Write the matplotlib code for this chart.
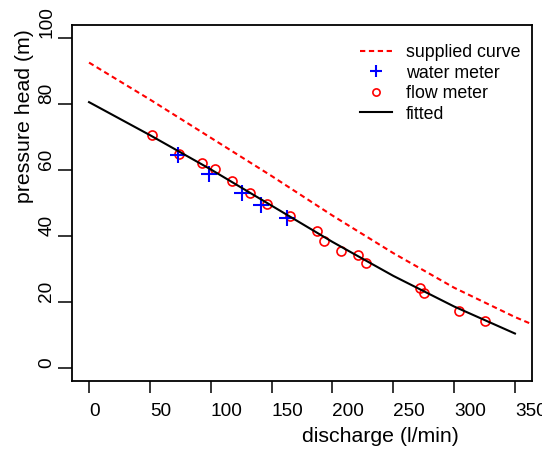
import numpy as np
import matplotlib
matplotlib.use("Agg")
import matplotlib.pyplot as plt

plt.rcParams['font.family'] = ['Liberation Sans', 'DejaVu Sans']
plt.rcParams['lines.scale_dashes'] = False

# supplied pump curve
supplied_q = [0, 50, 100, 150, 200, 250, 300, 350, 366]
supplied_h = [92.6, 81.4, 69.8, 58.2, 46.2, 34.8, 24.3, 15.4, 12.9]

# water meter readings
water_q = [73.3, 98.5, 125.4, 141.0, 162.8]
water_h = [64.7, 58.7, 52.9, 49.5, 45.5]

# flow meter readings
flow_q = [51.5, 73.9, 93.0, 103.4, 117.2, 131.9, 145.9, 165.0, 187.4, 192.9,
          207.1, 220.9, 227.7, 271.8, 275.0, 304.3, 325.7]
flow_h = [70.5, 65.0, 62.0, 60.4, 56.8, 53.1, 49.8, 46.2, 41.6, 38.6,
          35.3, 34.1, 31.8, 24.2, 22.7, 17.3, 14.3]

# fitted curve
fit_q = [0, 50, 100, 150, 200, 250, 300, 350]
fit_h = [80.6, 70.6, 60.2, 49.2, 38.2, 27.9, 18.6, 10.4]

xticks = [0, 50, 100, 150, 200, 250, 300, 350]
yticks = [0, 20, 40, 60, 80, 100]

W, H = 542, 455
fig = plt.figure(figsize=(W / 100, H / 100), dpi=100)
ax = fig.add_axes([72 / W, 74 / H, 460 / W, 356 / H])

l1, = ax.plot(supplied_q, supplied_h, color='red', lw=1.5, linestyle=(0, (3.8, 2.6)),
              label='supplied curve')
l3, = ax.plot(flow_q, flow_h, linestyle='none', marker='o', mfc='none', mec='red',
              ms=6.5, mew=1.2, label='flow meter')
l2, = ax.plot(water_q, water_h, linestyle='none', marker='+', color='blue',
              ms=11, mew=1.5, label='water meter')
l4, = ax.plot(fit_q, fit_h, color='black', lw=1.5, label='fitted')

ax.set_xlim(-14, 364)
ax.set_ylim(-4, 104)

for s in ax.spines.values():
    s.set_linewidth(1.3)

ax.set_xticks(xticks)
ax.set_xticklabels([str(v) for v in xticks], ha='left')
ax.set_yticks(yticks)
ax.set_yticklabels([str(v) for v in yticks], rotation=90, va='bottom')
ax.tick_params(axis='x', length=8.6, width=1.1, pad=7, labelsize=13.7)
ax.tick_params(axis='y', length=10, width=1.1, pad=2, labelsize=13.7)

ax.set_xlabel('discharge (l/min)', fontsize=15.3, ha='left', va='center')
ax.xaxis.set_label_coords(0.5, -55 / 356)
ax.set_ylabel('pressure head (m)', fontsize=15.3, ha='left', va='center')
ax.yaxis.set_label_coords(-47 / 460, 0.5)

leg = ax.legend(handles=[l1, l2, l3, l4], loc='upper left', frameon=False,
                bbox_to_anchor=(360 / W, (H - 44) / H), bbox_transform=fig.transFigure,
                borderpad=0, borderaxespad=0, handlelength=1.8, handletextpad=0.8,
                labelspacing=0.2, fontsize=12.8, markerscale=0.8)

fig.savefig('out.png', dpi=100)
